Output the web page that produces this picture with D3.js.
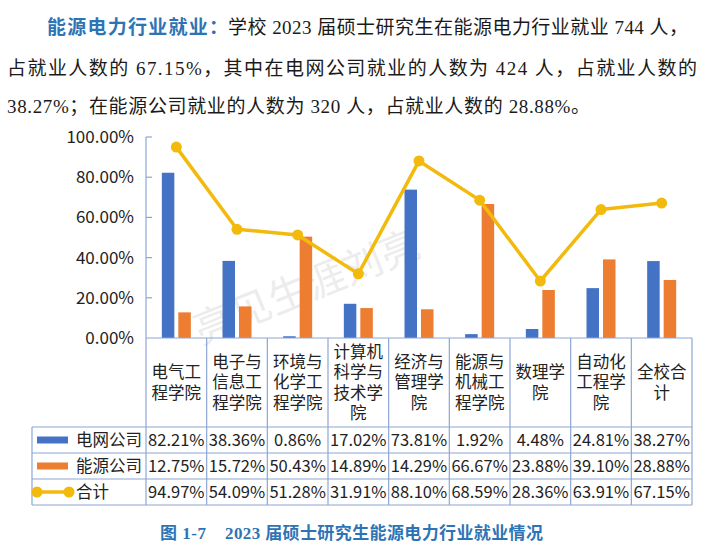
<!DOCTYPE html>
<html><head><meta charset="utf-8">
<script src="https://cdn.jsdelivr.net/npm/d3@7/dist/d3.min.js"></script>
<style>body{margin:0;background:#fff;} svg{display:block;}</style>
</head><body>
<svg id="c" width="705" height="550"></svg>
<script>
const categories = ["电气工程学院","电子与信息工程学院","环境与化学工程学院","计算机科学与技术学院","经济与管理学院","能源与机械工程学院","数理学院","自动化工程学院","全校合计"];
const categoryLines = [["电气工","程学院"],["电子与","信息工","程学院"],["环境与","化学工","程学院"],["计算机","科学与","技术学","院"],["经济与","管理学","院"],["能源与","机械工","程学院"],["数理学","院"],["自动化","工程学","院"],["全校合","计"]];
const gridValues = [82.21,38.36,0.86,17.02,73.81,1.92,4.48,24.81,38.27];
const energyValues = [12.75,15.72,50.43,14.89,14.29,66.67,23.88,39.10,28.88];
const totalValues = [94.97,54.09,51.28,31.91,88.10,68.59,28.36,63.91,67.15];
const seriesNames = ["电网公司","能源公司","合计"];
const yTicks = [0,20,40,60,80,100];

(function(){
const colors = {grid:"#4472C4", energy:"#ED7D31", total:"#F2BA0C", border:"#8EA6D6", text:"#222"};
const svg = d3.select("#c");
const fontCJK = "'Noto Sans CJK SC','Noto Sans',sans-serif";
const fontPara = "'Liberation Serif','Noto Sans CJK SC',serif";

// Paragraph text
const para = svg.append("g").attr("font-family", fontPara).attr("font-size", 19).attr("fill", "#1a1a1a");
para.append("text").attr("x", 47).attr("y", 34).attr("textLength", 181).attr("lengthAdjust", "spacing")
  .attr("fill", "#2E74B5").attr("font-weight", "bold").text("能源电力行业就业：");
para.append("text").attr("x", 228).attr("y", 34).attr("textLength", 460).attr("lengthAdjust", "spacing")
  .text("学校 2023 届硕士研究生在能源电力行业就业 744 人，");
para.append("text").attr("x", 7).attr("y", 75).attr("textLength", 690).attr("lengthAdjust", "spacing")
  .text("占就业人数的 67.15%，其中在电网公司就业的人数为 424 人，占就业人数的");
para.append("text").attr("x", 7).attr("y", 113).attr("textLength", 583).attr("lengthAdjust", "spacing")
  .text("38.27%；在能源公司就业的人数为 320 人，占就业人数的 28.88%。");

// Watermark
svg.append("text").attr("transform", "translate(307,287) rotate(-22)").attr("text-anchor", "middle").attr("dy", "0.35em")
  .attr("font-family", fontCJK).attr("font-size", 40).attr("fill", "#000").attr("opacity", 0.07)
  .text("亮见生涯刘亮");

const pLeft = 146, pRight = 692, pTop = 137, base = 338;
const x = d3.scaleBand().domain(categories).range([pLeft, pRight]).padding(0);
const y = d3.scaleLinear().domain([0, 100]).range([base, pTop]);
const sub = d3.scaleBand().domain(["grid","energy"]).range([0, x.bandwidth()]).paddingInner(0.242).paddingOuter(0.96);

// Y axis
const yAxis = d3.axisLeft(y).tickValues(yTicks).tickSize(0).tickPadding(12).tickFormat(d => d.toFixed(2) + "%");
const ga = svg.append("g").attr("transform", `translate(${pLeft},0)`).call(yAxis);
ga.select(".domain").remove();
ga.selectAll("text").attr("font-family", fontCJK).attr("font-size", 17).attr("fill", colors.text);
svg.append("g").selectAll("line").data(yTicks.filter(d => d > 0)).join("line")
  .attr("x1", pLeft).attr("x2", pLeft + 6).attr("y1", d => y(d)).attr("y2", d => y(d))
  .attr("stroke", colors.border).attr("stroke-width", 1.2);

// Bars
const bars = svg.append("g");
bars.selectAll("rect.g").data(gridValues).join("rect").attr("class","g")
  .attr("x", (d, i) => x(categories[i]) + sub("grid")).attr("width", sub.bandwidth())
  .attr("y", d => y(d)).attr("height", d => base - y(d)).attr("fill", colors.grid);
bars.selectAll("rect.e").data(energyValues).join("rect").attr("class","e")
  .attr("x", (d, i) => x(categories[i]) + sub("energy")).attr("width", sub.bandwidth())
  .attr("y", d => y(d)).attr("height", d => base - y(d)).attr("fill", colors.energy);

// Line
const cx = i => x(categories[i]) + x.bandwidth() / 2;
svg.append("path").datum(totalValues)
  .attr("d", d3.line().x((d, i) => cx(i)).y(d => y(d)))
  .attr("fill", "none").attr("stroke", colors.total).attr("stroke-width", 3.5).attr("stroke-linejoin", "round");
svg.append("g").selectAll("circle").data(totalValues).join("circle")
  .attr("cx", (d, i) => cx(i)).attr("cy", d => y(d)).attr("r", 5.5).attr("fill", colors.total);

// Table
const rowTop = 427, rowH = 26, tableLeft = 32;
const tb = svg.append("g").attr("stroke", colors.border).attr("stroke-width", 1.2).attr("fill", "none");
tb.append("line").attr("x1", pLeft).attr("x2", pRight).attr("y1", base).attr("y2", base);
tb.append("line").attr("x1", pLeft).attr("x2", pLeft).attr("y1", pTop).attr("y2", rowTop + 3 * rowH);
categories.forEach((c) => {
  const xx = x(c) + x.bandwidth();
  tb.append("line").attr("x1", xx).attr("x2", xx).attr("y1", base).attr("y2", rowTop + 3 * rowH);
});
for (let r = 0; r <= 3; r++) {
  tb.append("line").attr("x1", tableLeft).attr("x2", pRight).attr("y1", rowTop + r * rowH).attr("y2", rowTop + r * rowH);
}
tb.append("line").attr("x1", tableLeft).attr("x2", tableLeft).attr("y1", rowTop).attr("y2", rowTop + 3 * rowH);

// Category labels (one text per label, wrapped lines as tspans)
const lh = 20.5;
const catG = svg.append("g").attr("font-family", fontCJK).attr("font-size", 16.5).attr("fill", colors.text).attr("text-anchor", "middle");
categoryLines.forEach((lines, i) => {
  const midY = (base + rowTop) / 2;
  const startY = midY - (lines.length - 1) * lh / 2;
  const t = catG.append("text").attr("x", cx(i));
  lines.forEach((ln, j) => {
    t.append("tspan").attr("x", cx(i)).attr("y", startY + j * lh).attr("dy", "0.35em").text(ln);
  });
});

// Table values
const rows = [gridValues, energyValues, totalValues];
const valG = svg.append("g").attr("font-family", fontCJK).attr("font-size", 16.5).attr("fill", colors.text).attr("text-anchor", "middle");
rows.forEach((vals, r) => {
  valG.append("g").selectAll("text").data(vals).join("text")
    .attr("x", (d, i) => cx(i)).attr("y", rowTop + r * rowH + rowH / 2).attr("dy", "0.36em")
    .text(d => d.toFixed(2) + "%");
});

// Legend in table
const lg = svg.append("g").attr("font-family", fontCJK).attr("font-size", 16.5).attr("fill", colors.text);
const rc = r => rowTop + r * rowH + rowH / 2;
lg.append("rect").attr("x", 37).attr("y", rc(0) - 3.5).attr("width", 31).attr("height", 7).attr("fill", colors.grid);
lg.append("rect").attr("x", 37).attr("y", rc(1) - 3.5).attr("width", 31).attr("height", 7).attr("fill", colors.energy);
lg.append("line").attr("x1", 37).attr("x2", 69).attr("y1", rc(2)).attr("y2", rc(2)).attr("stroke", colors.total).attr("stroke-width", 3.5);
lg.append("circle").attr("cx", 37).attr("cy", rc(2)).attr("r", 5.5).attr("fill", colors.total);
lg.append("circle").attr("cx", 69).attr("cy", rc(2)).attr("r", 5.5).attr("fill", colors.total);
seriesNames.forEach((n, r) => {
  lg.append("text").attr("x", 76).attr("y", rc(r)).attr("dy", "0.36em").text(n);
});

// Caption
const cap = svg.append("g").attr("font-family", fontPara).attr("font-size", 17)
  .attr("font-weight", "bold").attr("fill", "#2E74B5");
cap.append("text").attr("x", 160).attr("y", 539).attr("textLength", 46).attr("lengthAdjust", "spacing").text("图 1-7");
cap.append("text").attr("x", 225).attr("y", 539).attr("textLength", 318).attr("lengthAdjust", "spacing")
  .text("2023 届硕士研究生能源电力行业就业情况");
})();
</script>
</body></html>
